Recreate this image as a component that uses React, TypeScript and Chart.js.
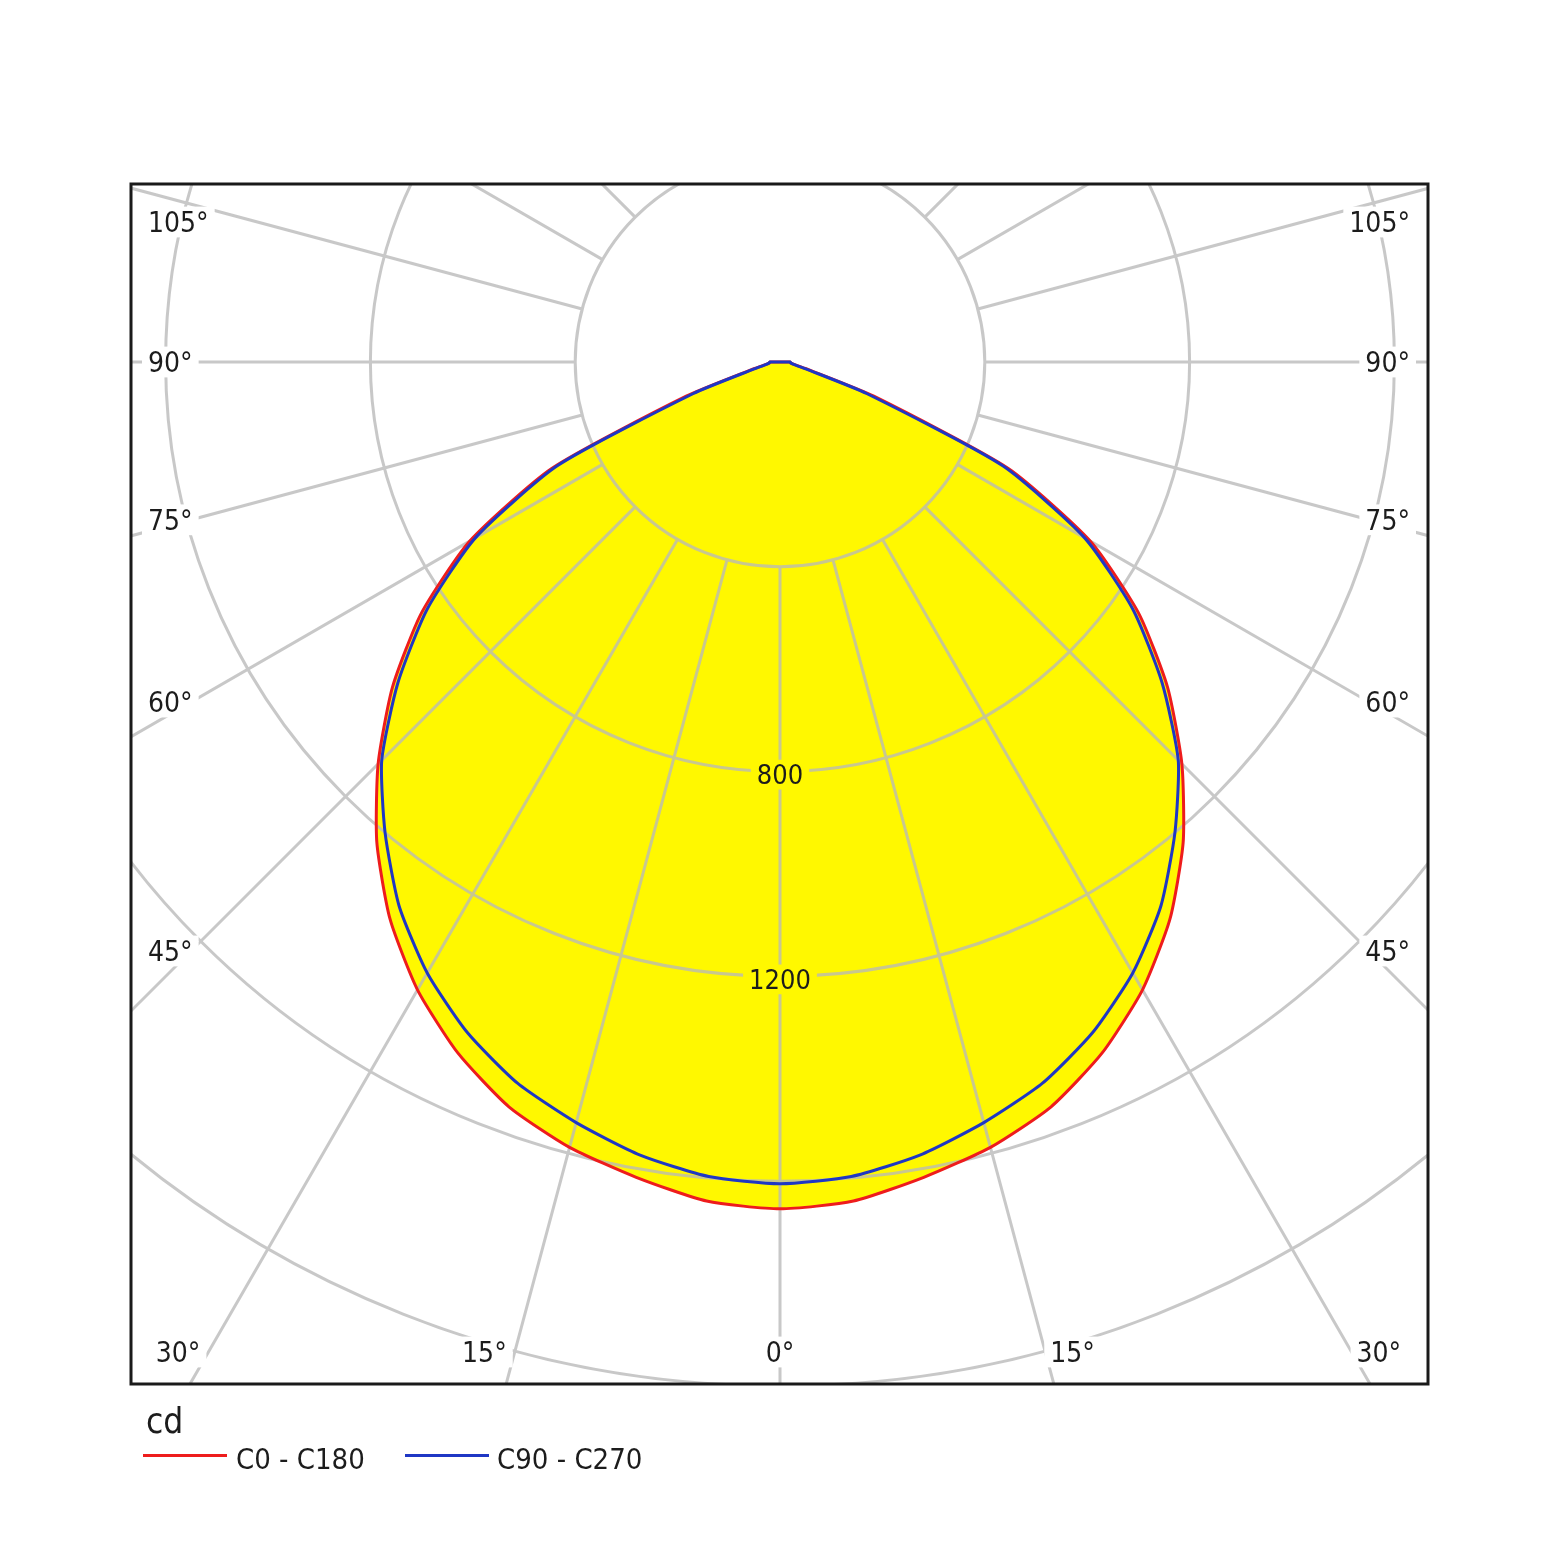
import { useEffect, useRef } from "react";
import { Chart, registerables } from "chart.js";

Chart.register(...registerables);

// gamma = angle from nadir (deg), intensities in cd
const gammaAngles = [0, 5, 10, 15, 20, 25, 30, 35, 40, 45, 50, 55, 60, 65, 70, 75, 80, 85, 90, 180];
const c0c180 = [1654, 1645, 1617, 1588, 1548, 1489, 1416, 1328, 1225, 1110, 988, 855, 700, 492, 195, 59, 29, 21, 20, 0];
const c90c270 = [1605, 1597, 1573, 1538, 1499, 1445, 1378, 1297, 1200, 1100, 974, 841, 687, 480, 180, 52, 27, 21, 20, 0];

const seriesNames = ["C0 - C180", "C90 - C270"];
const unitLabel = "cd";

const ringValues = [400, 800, 1200, 1600, 2000];
const ringLabelValues = [800, 1200];
const angleLabels = [0, 15, 30, 45, 60, 75, 90, 105];
const spokeStep = 15;

const FONT = "'DejaVu Sans Condensed', 'DejaVu Sans', sans-serif";
const TEXT = "#1c1c1c";
const RED = "#ee1c1c";
const BLUE = "#1f37c4";
const FILL = "#fff800";
const GRID = "rgba(185,185,185,0.78)";

// plot frame in px, and how many px one candela takes
const W = 1560;
const H = 1561;
const BOX = { left: 131, top: 184, right: 1428, bottom: 1384 };
const CENTER = { x: 780, y: 362 };
const PX_PER_CD = 0.512;

const RAD = Math.PI / 180;

const toPoints = (values: number[]) => {
  const left = gammaAngles
    .map((g, i) => ({ x: -values[i] * Math.sin(g * RAD), y: -values[i] * Math.cos(g * RAD) }))
    .reverse();
  const right = gammaAngles.map((g, i) => ({
    x: values[i] * Math.sin(g * RAD),
    y: -values[i] * Math.cos(g * RAD),
  }));
  return [...left, ...right.slice(1)];
};

const setFont = (ctx: any, size: number) => {
  ctx.font = `${size}px ${FONT}`;
  if ("fontStretch" in ctx) ctx.fontStretch = "condensed";
};

const drawLabel = (ctx: any, text: string, x: number, y: number, align: string, size: number, bg: string) => {
  setFont(ctx, size);
  const w = ctx.measureText(text).width;
  const left = align === "left" ? x : align === "right" ? x - w : x - w / 2;
  ctx.fillStyle = bg;
  ctx.fillRect(left - 6, y - size * 0.55, w + 12, size * 1.1);
  ctx.fillStyle = TEXT;
  ctx.textAlign = align;
  ctx.textBaseline = "alphabetic";
  ctx.fillText(text, x, y + size * 0.365);
};

// grid goes over the yellow fill but under the curves
const polarGrid = {
  id: "polarGrid",
  afterDatasetDraw(chart: any, args: any) {
    if (args.index !== 0) return;
    const { ctx, chartArea: a, scales } = chart;
    const cx = scales.x.getPixelForValue(0);
    const cy = scales.y.getPixelForValue(0);
    const k = (scales.x.getPixelForValue(1000) - cx) / 1000;

    ctx.save();
    ctx.beginPath();
    ctx.rect(a.left, a.top, a.right - a.left, a.bottom - a.top);
    ctx.clip();

    ctx.strokeStyle = GRID;
    ctx.lineWidth = 3;
    ctx.beginPath();
    for (const v of ringValues) {
      ctx.moveTo(cx + v * k, cy);
      ctx.arc(cx, cy, v * k, 0, Math.PI * 2);
    }
    const r0 = ringValues[0] * k;
    for (let d = 0; d < 360; d += spokeStep) {
      const sx = Math.sin(d * RAD);
      const sy = Math.cos(d * RAD);
      ctx.moveTo(cx + sx * r0, cy + sy * r0);
      ctx.lineTo(cx + sx * 3000, cy + sy * 3000);
    }
    ctx.stroke();

    for (const v of ringLabelValues) {
      drawLabel(ctx, String(v), cx, cy + v * k + 3, "center", 27, FILL);
    }

    for (const deg of angleLabels) {
      for (const side of [-1, 1]) {
        if (deg === 0 && side === 1) continue;
        const sx = Math.sin(deg * RAD);
        const sy = Math.cos(deg * RAD);
        const tSide = sx > 1e-6 ? (side < 0 ? cx - a.left : a.right - cx) / sx : Infinity;
        const tBottom = sy > 1e-6 ? (a.bottom - cy) / sy : Infinity;
        const text = `${deg}°`;
        if (tBottom < tSide) {
          const y = a.bottom - 32;
          const x = cx + side * (y - cy) * Math.tan(deg * RAD);
          if (deg === 0) drawLabel(ctx, text, x, y, "center", 28, "#fff");
          else if (side < 0) drawLabel(ctx, text, x - 8, y, "right", 28, "#fff");
          else drawLabel(ctx, text, x + 5, y, "left", 28, "#fff");
        } else {
          const dx = 589;
          let y = cy + (dx * sy) / sx;
          y = Math.max(y, a.top + 38);
          if (side < 0) drawLabel(ctx, text, a.left + 17, y, "left", 28, "#fff");
          else drawLabel(ctx, text, a.right - 18, y, "right", 28, "#fff");
        }
      }
    }
    ctx.restore();
  },
  afterDraw(chart: any) {
    const { ctx, chartArea: a } = chart;
    ctx.save();
    ctx.strokeStyle = "#1a1a1a";
    ctx.lineWidth = 3;
    ctx.strokeRect(a.left, a.top, a.right - a.left, a.bottom - a.top);
    ctx.restore();
  },
};

const App = () => {
  const canvasRef = useRef<HTMLCanvasElement>(null);

  useEffect(() => {
    const pad = { left: BOX.left, top: BOX.top, right: W - BOX.right, bottom: H - BOX.bottom };
    const config: any = {
      type: "line",
      data: {
        datasets: [
          {
            label: "fill",
            data: toPoints(c0c180),
            fill: "shape",
            backgroundColor: FILL,
            borderColor: "transparent",
            borderWidth: 0,
            pointRadius: 0,
            order: 3,
          },
          {
            label: seriesNames[0],
            data: toPoints(c0c180),
            fill: false,
            borderColor: RED,
            borderWidth: 3,
            pointRadius: 0,
            order: 2,
          },
          {
            label: seriesNames[1],
            data: toPoints(c90c270),
            fill: false,
            borderColor: BLUE,
            borderWidth: 3,
            pointRadius: 0,
            order: 1,
          },
        ],
      },
      options: {
        responsive: false,
        animation: false,
        devicePixelRatio: 1,
        events: [],
        layout: { padding: pad },
        elements: { line: { tension: 0.2, borderJoinStyle: "round" } },
        scales: {
          x: {
            type: "linear",
            display: false,
            min: -(CENTER.x - BOX.left) / PX_PER_CD,
            max: (BOX.right - CENTER.x) / PX_PER_CD,
          },
          y: {
            type: "linear",
            display: false,
            min: -(BOX.bottom - CENTER.y) / PX_PER_CD,
            max: (CENTER.y - BOX.top) / PX_PER_CD,
          },
        },
        plugins: { legend: { display: false }, tooltip: { enabled: false } },
      },
      plugins: [polarGrid],
    };
    const chart = new Chart(canvasRef.current as HTMLCanvasElement, config);
    return () => {
      chart.destroy();
    };
  }, []);

  const legend = [
    { name: seriesNames[0], color: RED, line: 143, text: 236 },
    { name: seriesNames[1], color: BLUE, line: 405, text: 497 },
  ];

  return (
    <div
      style={{
        position: "absolute",
        left: 0,
        top: 0,
        width: W,
        height: H,
        background: "#fff",
        fontFamily: FONT,
        fontStretch: "condensed",
        color: TEXT,
      }}
    >
      <canvas ref={canvasRef} width={W} height={H} style={{ display: "block" }} />
      <div style={{ position: "absolute", left: 146, top: 1433 - 35 * 0.928, fontSize: 35, lineHeight: "normal" }}>
        {unitLabel}
      </div>
      {legend.map((l) => (
        <div key={l.name}>
          <div style={{ position: "absolute", left: l.line, top: 1454, width: 84, height: 3, background: l.color }} />
          <div
            style={{
              position: "absolute",
              left: l.text,
              top: 1469 - 29 * 0.928,
              fontSize: 29,
              lineHeight: "normal",
              whiteSpace: "nowrap",
            }}
          >
            {l.name}
          </div>
        </div>
      ))}
    </div>
  );
};

export default App;
